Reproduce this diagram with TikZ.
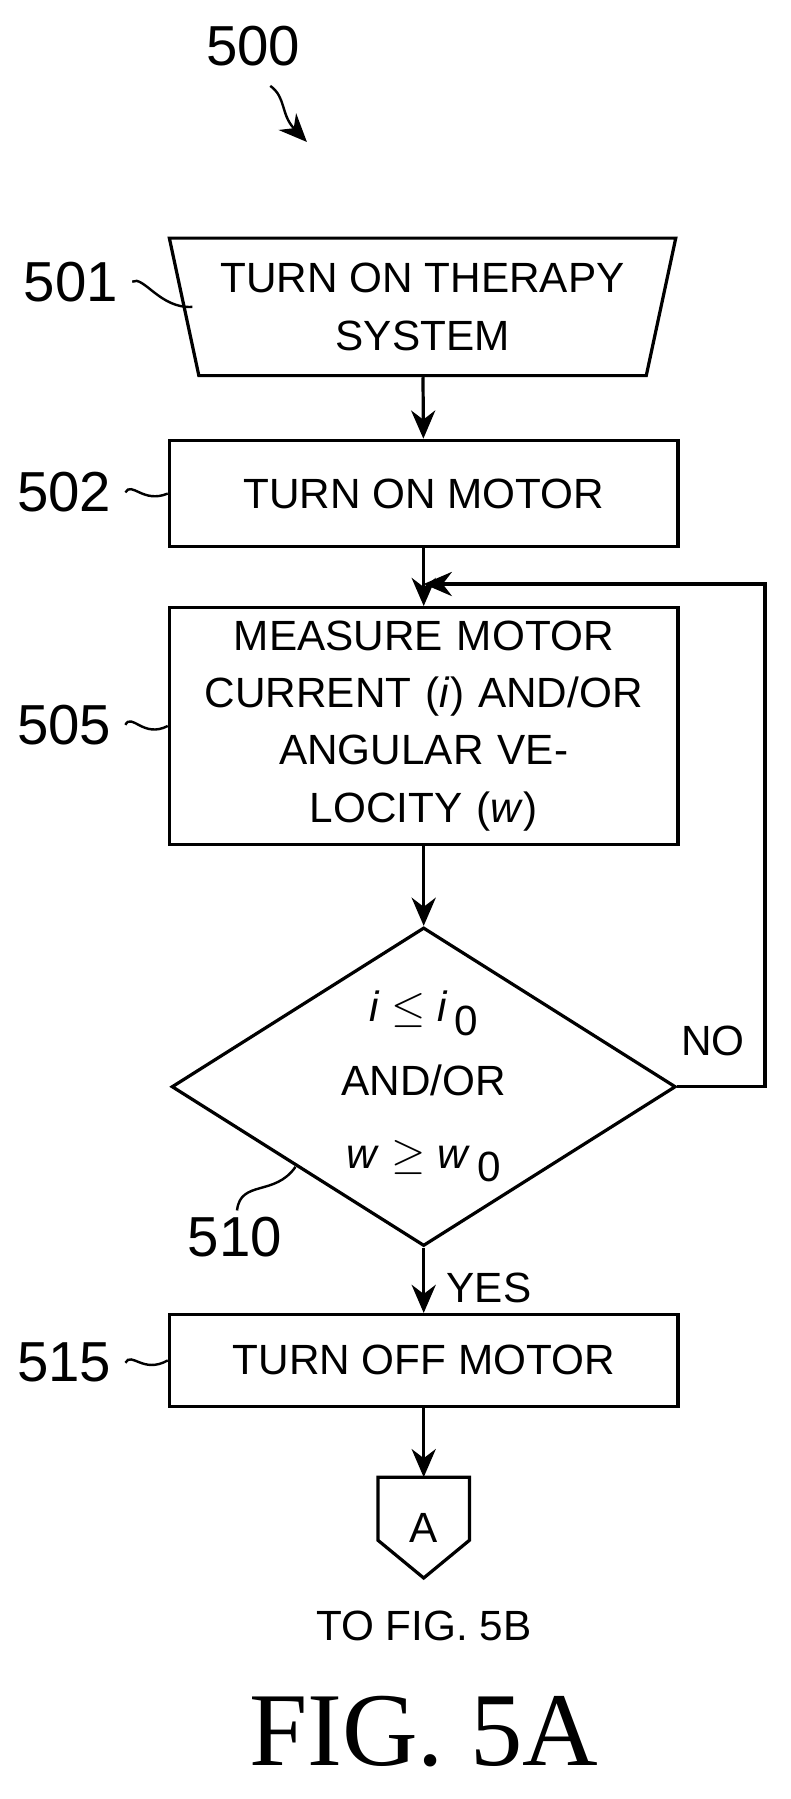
\documentclass[tikz,border=0pt]{standalone}
\usepackage{fontspec}
\setmainfont{Liberation Sans}
\newfontfamily\capfont{Liberation Serif}
\usetikzlibrary{arrows.meta,shapes.geometric}
\tikzset{stage/.style={draw,line width=0.8pt,minimum width=4.44cm,minimum height=0.93cm,align=center}}
\tikzset{flow/.style={line width=0.8pt,-{Stealth[length=7pt,width=6pt]}}}
\tikzset{tag/.style={font=\fontsize{14}{17}\selectfont}}
\tikzset{wiggle/.style={line width=0.6pt}}

\begin{document}
\begin{tikzpicture}[x=0.01cm,y=-0.01cm,font=\fontsize{10.5}{14.2}\selectfont]
          \useasboundingbox (0,0) rectangle (690,1571);

          % Etapes
          \node [stage,trapezium,trapezium angle=73,shape border rotate=180,
                 trapezium stretches=true,minimum width=4.42cm,minimum height=1.2cm,inner sep=0pt]
                (start) at (369,268) {TURN ON THERAPY\\SYSTEM};
          \node [stage] (motoron) at (370,431) {TURN ON MOTOR};
          \node [stage,minimum height=1.72cm,text width=4.2cm,inner xsep=0pt] (measure) at (370,634)
                {MEASURE MOTOR\\CURRENT (\textit{i}) AND/OR\\ANGULAR VELOCITY (\textit{w})};
          \node [draw,line width=0.8pt,diamond,aspect=1.58,minimum width=4.4cm,
                 minimum height=2.78cm,inner sep=0pt,align=center] (test) at (370,949)
                {\textit{i} $\leq$ \textit{i}\,\raisebox{-0.6ex}{0}\\[4pt]AND/OR\\[4pt]\textit{w} $\geq$ \textit{w}\,\raisebox{-0.6ex}{0}};
          \node [stage,minimum height=0.8cm] (motoroff) at (370,1188) {TURN OFF MOTOR};

          % Renvoi
          \draw [line width=0.8pt] (330,1290) -- (410,1290) -- (410,1345) -- (370,1378)
                -- (330,1345) -- cycle;
          \node (conn) at (370,1334) {A};
          \coordinate (conntop) at (370,1290);
          \node (tofig) at (370,1420) {TO FIG. 5B};
          \node [font=\fontsize{26}{30}\selectfont\capfont] (caption) at (370,1512) {FIG. 5A};

          % Numeros
          \node [tag] (n500) at (221,40) {500};
          \node [tag] (n501) at (62,246) {501};
          \node [tag] (n502) at (56,430) {502};
          \node [tag] (n505) at (56,633) {505};
          \node [tag] (n510) at (205,1080) {510};
          \node [tag] (n515) at (56,1190) {515};

          % Renvois des numeros
          \draw [wiggle,-{Stealth[length=7pt,width=6pt]}] (236,75) .. controls (250,85) and (245,100) .. (268,124);
          \draw [wiggle] (n501.east) .. controls (125,240) and (140,270) .. (168,268);
          \draw [wiggle] (n502.east) .. controls (115,420) and (125,440) .. (motoron.west);
          \draw [wiggle] (n505.east) .. controls (115,622) and (125,645) .. (measure.west);
          \draw [wiggle] (207,1057) .. controls (210,1030) and (240,1045) .. (258,1019);
          \draw [wiggle] (n515.east) .. controls (115,1180) and (125,1200) .. (motoroff.west);

          % Fleches
          \coordinate (join) at (370,510);
          \draw [flow] (start) -- (motoron);
          \draw [flow] (motoron) -- (measure);
          \draw [flow] (measure) -- (test);
          \draw [flow] (test.south) -- node [right,xshift=2pt,yshift=-2pt] {YES} (motoroff);
          \draw [flow] (motoroff) -- (conntop);
          \draw [flow] (test.east) -- node [above,xshift=-2pt,yshift=4pt] {NO} (668,949) |- (join);
\end{tikzpicture}
\end{document}
